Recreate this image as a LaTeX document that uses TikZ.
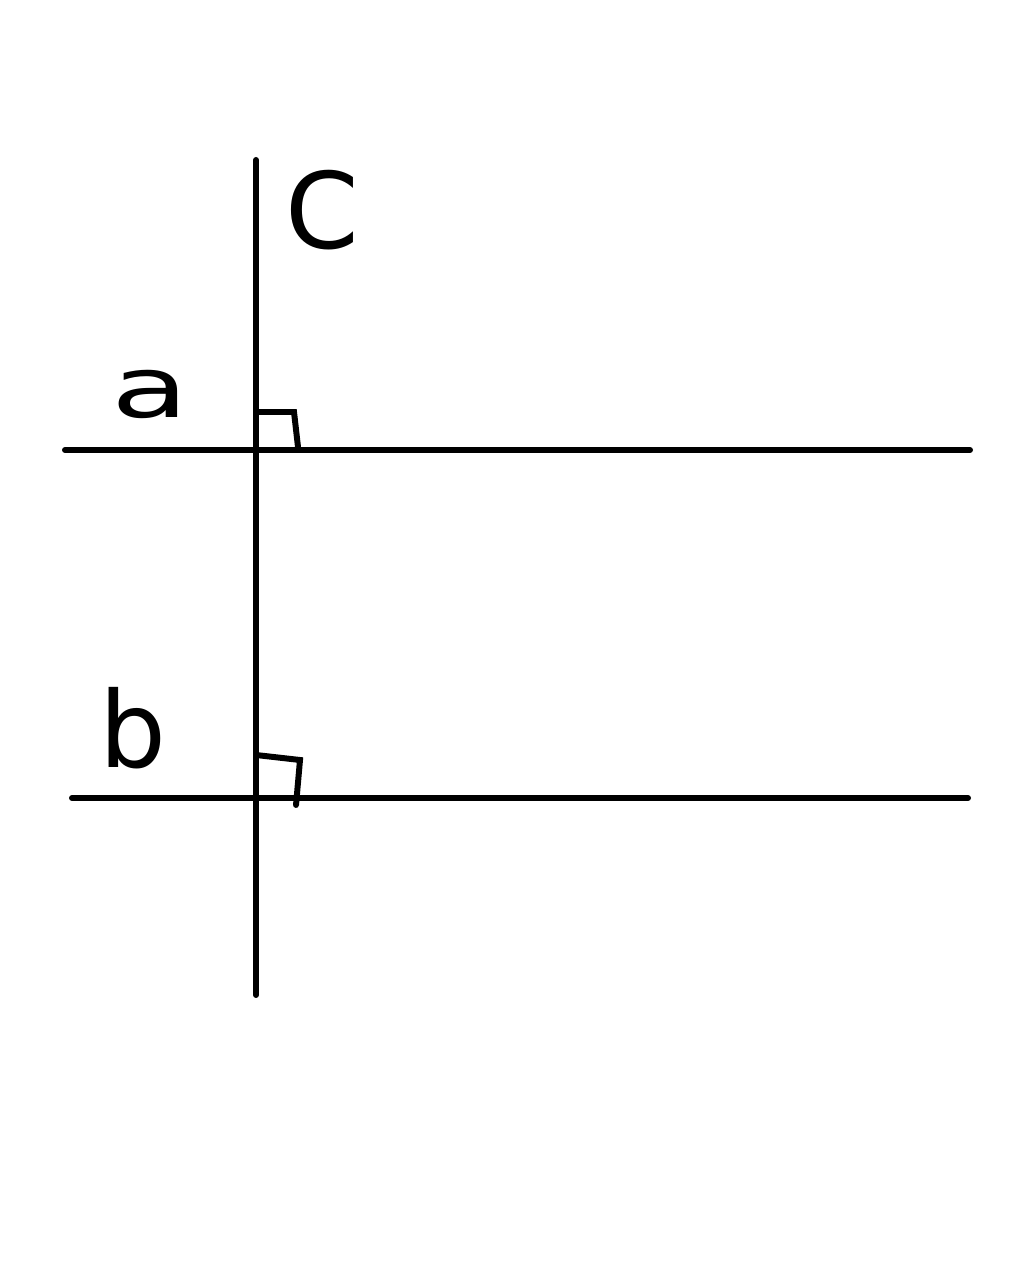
\documentclass[tikz,border=0pt]{standalone}
\usepackage{fontspec}
\setmainfont{DejaVu Sans}
\tikzset{
  lbl/.style={inner sep=0pt, font=\fontsize{30}{36}\selectfont},
}
\begin{document}
\begin{tikzpicture}[x=0.01cm, y=-0.01cm, line width=1.7pt, line cap=round]
  \useasboundingbox (0,0) rectangle (1024,1280);
  \draw
    (256,160) coordinate (ctop)
    (256,995) coordinate (cbot)
    (65,450) coordinate (aleft)
    (970,450) coordinate (aright)
    (72,798) coordinate (bleft)
    (968,798) coordinate (bright);
  \begin{scope}[-]
    \draw (ctop) to (cbot);
    \draw (aleft) to (aright);
    \draw (bleft) to (bright);
    \draw (256,412) -- (294,412) -- (298,447);
    \draw (256,755) -- (300,760) -- (296,805);
  \end{scope}
  \node[lbl] (c) at (322,210) {C};
  \node[lbl, font=\fontsize{24}{28}\selectfont] (a) at (150,394) {\scalebox{1.5}[1]{a}};
  \node[lbl] (b) at (133,728) {b};
\end{tikzpicture}
\end{document}
